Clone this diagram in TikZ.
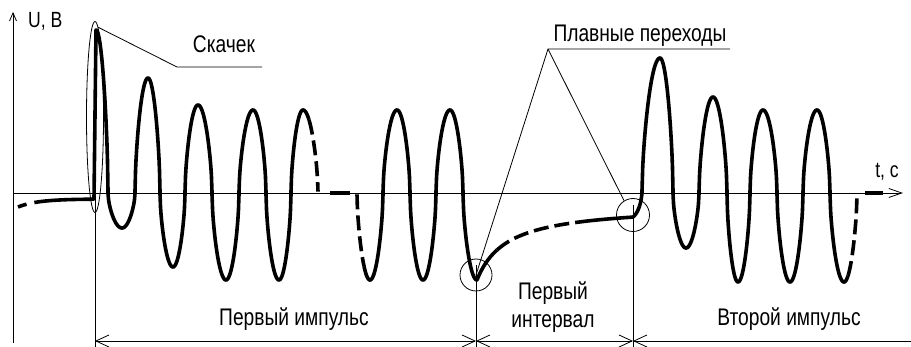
\documentclass[tikz,border=0pt]{standalone}
\usepackage{fontspec}
\setmainfont{Liberation Sans}[FakeStretch=0.8]
\usetikzlibrary{arrows.meta,shapes.geometric}

\begin{document}
\begin{tikzpicture}[x=1pt,y=-1pt,>={Straight Barb[length=13pt,width=12pt]},
  declare function={qw(\t,\za,\zb,\zh)=193+(\zh-193)*pow(max(sin(90*(\t-\za)/(\zb-\za)),0.001),0.6);},
  wave/.style={line width=3.6pt,line join=round},
  broken/.style={wave,dash pattern=on 15pt off 6pt},
  lead/.style={line width=0.8pt},
  ring/.style={draw,lead,inner sep=0pt},
  lbl/.style={font=\fontsize{24}{28}\selectfont,inner sep=0pt,anchor=base},
  axlbl/.style={lbl,font=\fontsize{22}{26}\selectfont}]
  \useasboundingbox (0,0) rectangle (911,347);
  \coordinate (o) at (13,343);
  \coordinate (ytop) at (13,12);
  \coordinate (xl) at (13,193);
  \coordinate (xr) at (903,193);
  \draw[lead,-{Straight Barb[length=8pt,width=7pt]}] (o) -- (ytop);
  \draw[lead,-{Straight Barb[length=13pt,width=9pt]}] (xl) -- (xr);
  \node[axlbl,anchor=base west] (ub) at (28,28) {U, В};
  \node[axlbl] (tc) at (887,178) {t, с};

  \draw[wave,dash pattern=on 9pt off 8pt on 9000pt]
    plot[domain=18:94] (\x,{199+8*exp(-(\x-18)/20)}) -- (96,30)
    -- plot[domain=96:108] (\x,{qw(\x,108,96,30)})
    \foreach \a/\m/\b/\h in {108/122/135/228,135/148/160/78,160/173/185/267,185/198/212/105,
      212/226/239/280,239/253/266/110,266/279/291/280}
      { -- plot[domain=\a:\m] (\x,{qw(\x,\a,\m,\h)}) -- plot[domain=\m:\b] (\x,{qw(\x,\b,\m,\h)}) }
    -- plot[domain=291:303] (\x,{qw(\x,291,303,110)})
    -- plot[domain=303:309] (\x,{qw(\x,318,303,110)});
  \draw[broken] plot[domain=309:318] (\x,{qw(\x,318,303,110)});
  \draw[wave] (330,193) -- (350,193);
  \draw[broken] plot[domain=357:364] (\x,{qw(\x,357,370,280)});
  \draw[wave] plot[domain=364:370] (\x,{qw(\x,357,370,280)})
    -- plot[domain=370:383] (\x,{qw(\x,383,370,280)})
    \foreach \a/\m/\b/\h in {383/397/410/110,410/423/436/280,436/450/463/110}
      { -- plot[domain=\a:\m] (\x,{qw(\x,\a,\m,\h)}) -- plot[domain=\m:\b] (\x,{qw(\x,\b,\m,\h)}) }
    -- plot[domain=463:477] (\x,{qw(\x,463,477,280)})
    -- plot[domain=477:497] (\x,{205+75/(1+(\x-477)/30)});
  \draw[broken] plot[domain=497:588] (\x,{205+75/(1+(\x-477)/30)});
  \draw[wave] plot[domain=588:633] (\x,{205+75/(1+(\x-477)/30)})
    .. controls (638,213) and (641,204) .. (642,193)
    -- plot[domain=642:660] (\x,{qw(\x,642,660,58)})
    -- plot[domain=660:673] (\x,{qw(\x,673,660,58)})
    \foreach \a/\m/\b/\h in {673/686/699/248,699/713/727/97,727/738/750/282,
      750/763/777/110,777/790/803/282,803/817/830/110}
      { -- plot[domain=\a:\m] (\x,{qw(\x,\a,\m,\h)}) -- plot[domain=\m:\b] (\x,{qw(\x,\b,\m,\h)}) }
    -- plot[domain=830:844] (\x,{qw(\x,830,844,282)})
    -- plot[domain=844:848] (\x,{qw(\x,857,844,282)});
  \draw[broken] plot[domain=848:857] (\x,{qw(\x,857,844,282)});
  \draw[wave] (865,193) -- (883,193);

  \node[ring,ellipse,minimum width=17pt,minimum height=191pt] (jump) at (95,117) {};
  \node[ring,circle,minimum size=32pt] (tr1) at (476,275) {};
  \node[ring,circle,minimum size=33pt] (tr2) at (633,215) {};

  \coordinate (js) at (95,199);
  \coordinate (skl) at (177,67);
  \coordinate (skr) at (262,67);
  \coordinate (pl) at (548,49);
  \coordinate (pr) at (730,49);
  \node[lbl] (sk) at (224,53) {Скачек};
  \node[lbl] (pp) at (640,42) {Плавные переходы};
  \draw[lead] (jump.88) -- (skl) -- (skr);
  \draw[lead] (tr1.center) -- (pl) -- (pr);
  \draw[lead] (pl) -- (tr2.122);

  \coordinate (e1) at (95,347);
  \coordinate (e2) at (476,347);
  \coordinate (e3) at (633,347);
  \coordinate (d1) at (95,341);
  \coordinate (d2) at (476,341);
  \coordinate (d3) at (633,341);
  \coordinate (d4) at (911,341);
  \draw[lead] (js) -- (e1);
  \draw[lead] ([yshift=10pt]tr1.center) -- (e2);
  \draw[lead] ([yshift=10pt]tr2.center) -- (e3);
  \draw[lead,<->] (d1) -- (d2);
  \draw[lead,<->] (d2) -- (d3);
  \draw[lead,<-] (d3) -- (d4);
  \node[lbl] (imp1) at (294,326) {Первый импульс};
  \node[lbl,align=center] (int1) at (553,328) {Первый\\интервал};
  \node[lbl] (imp2) at (789,326) {Второй импульс};
\end{tikzpicture}
\end{document}
